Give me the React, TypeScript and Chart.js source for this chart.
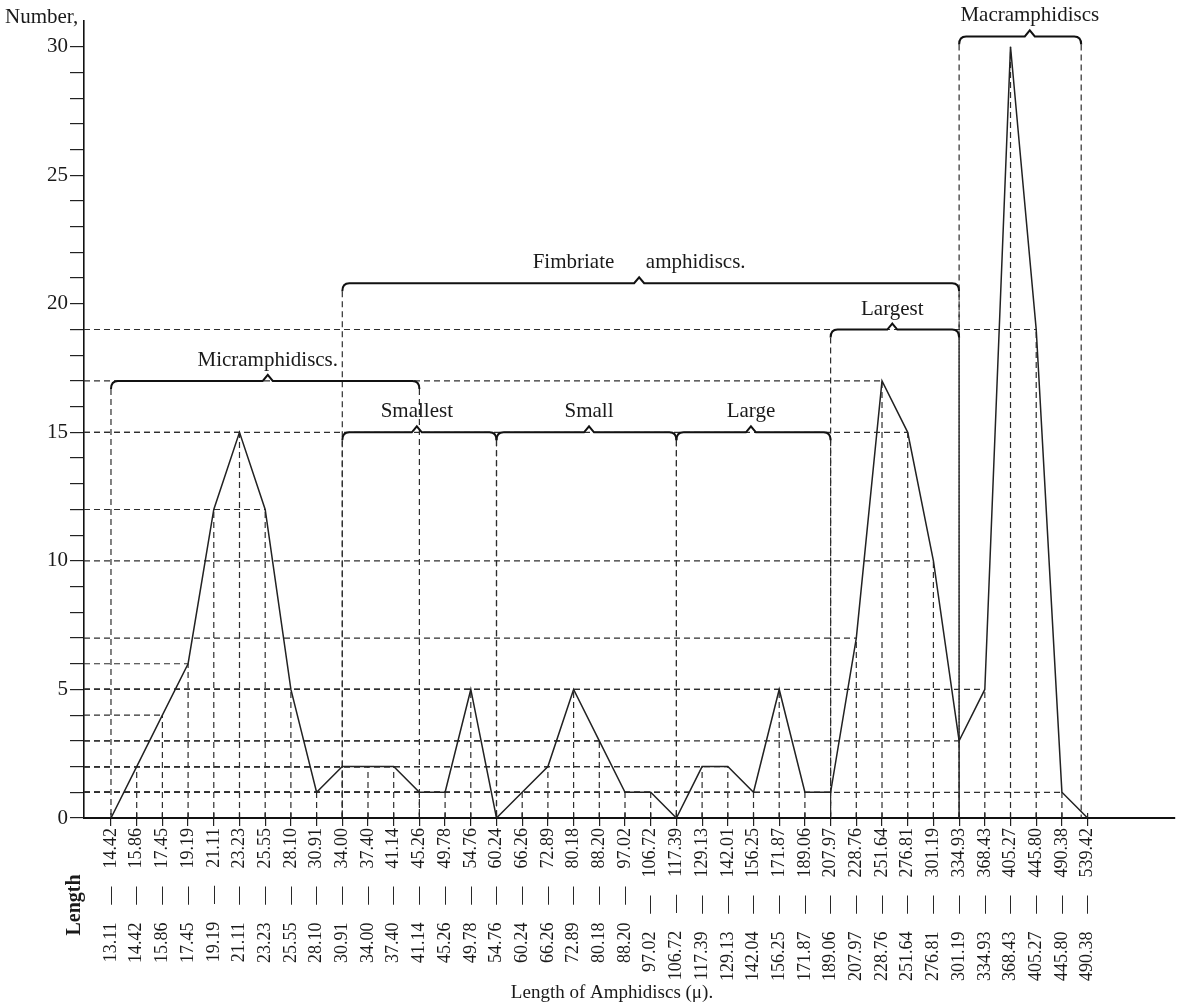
import React, { useEffect, useRef } from "react";
import { Chart, registerables } from "chart.js";

Chart.register(...registerables);

const FONT = "'Liberation Serif', 'DejaVu Serif', 'Times New Roman', serif";

// Length classes of amphidiscs (μ): lower and upper bound of each class
const lowerBounds = [
  "13.11", "14.42", "15.86", "17.45", "19.19", "21.11", "23.23", "25.55", "28.10", "30.91",
  "34.00", "37.40", "41.14", "45.26", "49.78", "54.76", "60.24", "66.26", "72.89", "80.18",
  "88.20", "97.02", "106.72", "117.39", "129.13", "142.04", "156.25", "171.87", "189.06", "207.97",
  "228.76", "251.64", "276.81", "301.19", "334.93", "368.43", "405.27", "445.80", "490.38",
];
const upperBounds = [
  "14.42", "15.86", "17.45", "19.19", "21.11", "23.23", "25.55", "28.10", "30.91", "34.00",
  "37.40", "41.14", "45.26", "49.78", "54.76", "60.24", "66.26", "72.89", "80.18", "88.20",
  "97.02", "106.72", "117.39", "129.13", "142.01", "156.25", "171.87", "189.06", "207.97", "228.76",
  "251.64", "276.81", "301.19", "334.93", "368.43", "405.27", "445.80", "490.38", "539.42",
];
// Number of amphidiscs in each class
const counts = [
  0, 2, 4, 6, 12, 15, 12, 5, 1, 2,
  2, 2, 1, 1, 5, 0, 1, 2, 5, 3,
  1, 1, 0, 2, 2, 1, 5, 1, 1, 7,
  17, 15, 10, 3, 5, 30, 19, 1, 0,
];
const yTickValues = Array.from({ length: 31 }, (_, i) => i);

// Group brackets (class index span, level on the Number scale)
const bracketLabels = [
  "Micramphidiscs.",
  "Fimbriate\u2003\u2002amphidiscs.",
  "Smallest",
  "Small",
  "Large",
  "Largest",
  "Macramphidiscs",
];
const bracketStart = [0, 9, 9, 15, 22, 28, 33];
const bracketEnd = [12, 33, 15, 22, 28, 33, 37.75];
const bracketPeak = [6.1, 20.55, 11.9, 18.6, 24.9, 30.4, 35.75];
const bracketLevel = [17, 20.8, 15, 15, 15, 19, 30.4];

const yAxisTitle = "Number,";
const xRowTitle = "Length";
const xAxisTitle = "Length of Amphidiscs (\u03bc).";

export default function App() {
  const ref = useRef<HTMLCanvasElement>(null);

  useEffect(() => {
    const canvas = ref.current;
    if (!canvas) return;
    const maxCount = Math.max(...counts);

    const guides = {
      id: "guides",
      beforeDatasetsDraw(chart: any) {
        const { ctx } = chart;
        const xs = chart.scales.x;
        const ys = chart.scales.y;
        const x0 = xs.left;
        const y0 = ys.getPixelForValue(0);
        ctx.save();
        ctx.setLineDash([6, 4]);
        ctx.lineWidth = 1.2;
        ctx.strokeStyle = "#2e2e2e";
        counts.forEach((v, i) => {
          if (v <= 0) return;
          const px = xs.getPixelForValue(i);
          const py = ys.getPixelForValue(v);
          if (v < maxCount) {
            ctx.beginPath();
            ctx.moveTo(x0, py);
            ctx.lineTo(px, py);
            ctx.stroke();
          }
          ctx.beginPath();
          ctx.moveTo(px, y0);
          ctx.lineTo(px, py);
          ctx.stroke();
        });
        bracketLabels.forEach((_, k) => {
          const by = ys.getPixelForValue(bracketLevel[k]) + 8;
          [bracketStart[k], bracketEnd[k]].forEach((idx) => {
            const px = xs.getPixelForValue(idx);
            ctx.beginPath();
            ctx.moveTo(px, by);
            ctx.lineTo(px, y0);
            ctx.stroke();
          });
        });
        ctx.restore();
      },
      afterDraw(chart: any) {
        const { ctx } = chart;
        const xs = chart.scales.x;
        const ys = chart.scales.y;
        const y0 = ys.getPixelForValue(0);
        ctx.save();
        // upper half of the x tick crosses
        ctx.strokeStyle = "#222";
        ctx.lineWidth = 1.2;
        upperBounds.forEach((_, i) => {
          const px = xs.getPixelForValue(i);
          ctx.beginPath();
          ctx.moveTo(px, y0 - 5);
          ctx.lineTo(px, y0);
          ctx.stroke();
        });
        // brackets
        ctx.strokeStyle = "#111";
        ctx.lineWidth = 2;
        ctx.fillStyle = "#1a1a1a";
        ctx.font = `21px ${FONT}`;
        ctx.textAlign = "center";
        ctx.textBaseline = "alphabetic";
        bracketLabels.forEach((label, k) => {
          const x1 = xs.getPixelForValue(bracketStart[k]);
          const x2 = xs.getPixelForValue(bracketEnd[k]);
          const pk = xs.getPixelForValue(bracketPeak[k]);
          const by = ys.getPixelForValue(bracketLevel[k]);
          ctx.beginPath();
          ctx.moveTo(x1, by + 8);
          ctx.quadraticCurveTo(x1, by, x1 + 7, by);
          ctx.lineTo(pk - 5, by);
          ctx.lineTo(pk, by - 6);
          ctx.lineTo(pk + 5, by);
          ctx.lineTo(x2 - 7, by);
          ctx.quadraticCurveTo(x2, by, x2, by + 8);
          ctx.stroke();
          ctx.fillText(label, pk, by - 15);
        });
        // titles
        ctx.textAlign = "left";
        ctx.font = `21px ${FONT}`;
        ctx.fillText(yAxisTitle, 5, 23);
        ctx.textAlign = "center";
        ctx.textBaseline = "middle";
        ctx.font = `19px ${FONT}`;
        ctx.fillText(xAxisTitle, 612, 993);
        ctx.translate(75, 905);
        ctx.rotate(-Math.PI / 2);
        ctx.font = `bold 20px ${FONT}`;
        ctx.fillText(xRowTitle, 0, 0);
        ctx.restore();
      },
    };

    const chart = new Chart(canvas, {
      type: "line",
      data: {
        datasets: [
          {
            data: counts.map((v, i) => ({ x: i, y: v })),
            borderColor: "#222",
            borderWidth: 1.5,
            pointRadius: 0,
            tension: 0,
            fill: false,
          },
        ],
      },
      options: {
        responsive: false,
        animation: false,
        events: [],
        layout: { padding: { top: 21, right: 7, left: 0, bottom: 0 } },
        plugins: {
          legend: { display: false },
          tooltip: { enabled: false },
          title: { display: false },
        },
        scales: {
          x: {
            type: "linear",
            min: -1.05,
            max: 41.4,
            afterBuildTicks: (scale: any) => {
              scale.ticks = upperBounds.map((_, i) => ({ value: i }));
            },
            afterFit: (scale: any) => {
              scale.height = 190;
            },
            ticks: {
              autoSkip: false,
              minRotation: 90,
              maxRotation: 90,
              padding: 2,
              color: "#1a1a1a",
              font: { family: FONT, size: 18 },
              callback: (value: any) => {
                const i = Math.round(Number(value));
                return `${lowerBounds[i]}\u2003\u2014\u2003${upperBounds[i]}`;
              },
            },
            grid: {
              display: true,
              drawOnChartArea: false,
              drawTicks: true,
              tickLength: 8,
              color: "#222",
              lineWidth: 1.2,
            },
            border: { display: true, color: "#111", width: 2 },
          },
          y: {
            type: "linear",
            min: 0,
            max: 31,
            afterBuildTicks: (scale: any) => {
              scale.ticks = yTickValues.map((v) => ({ value: v }));
            },
            afterFit: (scale: any) => {
              scale.width = 84;
            },
            ticks: {
              autoSkip: false,
              padding: 2,
              color: "#1a1a1a",
              font: { family: FONT, size: 21 },
              callback: (value: any) => (Number(value) % 5 === 0 ? String(value) : ""),
            },
            grid: {
              display: true,
              drawOnChartArea: false,
              drawTicks: true,
              tickLength: 14,
              color: "#222",
              lineWidth: 1.2,
            },
            border: { display: true, color: "#111", width: 1.6 },
          },
        },
      },
      plugins: [guides],
    } as any);

    return () => chart.destroy();
  }, []);

  return (
    <div style={{ position: "absolute", left: 0, top: 0, width: 1182, height: 1008, background: "#fff" }}>
      <canvas ref={ref} width={1182} height={1008} style={{ width: 1182, height: 1008, display: "block" }} />
    </div>
  );
}
